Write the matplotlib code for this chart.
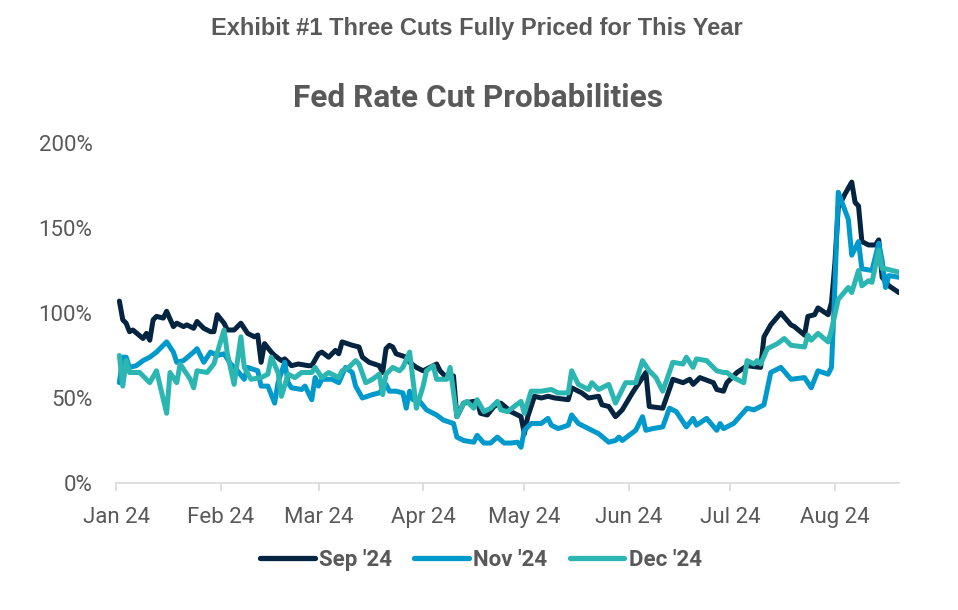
import pandas as pd
import matplotlib
matplotlib.use("Agg")
import matplotlib.pyplot as plt
import matplotlib.dates as mdates
from matplotlib.lines import Line2D
from matplotlib.ticker import FuncFormatter

# Fed rate cut probabilities (%), 2024
sep_dates = ["01-02", "01-03", "01-04", "01-05", "01-06", "01-09", "01-10", "01-11", "01-12", "01-13", "01-15",
             "01-16", "01-18", "01-19", "01-21", "01-22", "01-24", "01-25", "01-27", "01-29", "01-30", "01-31",
             "02-02", "02-03", "02-05", "02-07", "02-09", "02-11", "02-12", "02-13", "02-14", "02-16", "02-17",
             "02-19", "02-20", "02-22", "02-24", "02-27", "02-28",
             "03-01", "03-02", "03-04", "03-06", "03-07", "03-08", "03-11", "03-13", "03-14", "03-16", "03-19",
             "03-20", "03-21", "03-22", "03-23", "03-24", "03-27", "03-28", "03-30",
             "04-01", "04-03", "04-05", "04-06", "04-08", "04-09", "04-10", "04-11", "04-13", "04-16", "04-17",
             "04-18", "04-20", "04-22", "04-24", "04-27", "04-30",
             "05-01", "05-02", "05-04", "05-06", "05-08", "05-10", "05-14", "05-15", "05-18", "05-20", "05-23",
             "05-24", "05-26", "05-28", "05-30",
             "06-02", "06-06", "06-07", "06-11", "06-14", "06-17", "06-19", "06-20", "06-22", "06-26", "06-27",
             "06-29", "06-30",
             "07-03", "07-06", "07-10", "07-11", "07-13", "07-16", "07-19", "07-20", "07-23", "07-24", "07-26",
             "07-27", "07-30", "07-31",
             "08-01", "08-02", "08-04", "08-06", "08-07", "08-08", "08-09", "08-11", "08-13", "08-14", "08-15",
             "08-17", "08-20"]
sep_vals = [107, 96, 94, 89, 90, 85, 88, 84, 96, 98, 97, 101, 92, 94, 92, 93, 91, 95, 91, 89, 89, 99,
            94, 90, 90, 94, 88, 86, 87, 71, 82, 77, 75, 72, 73, 69, 70, 69, 69,
            76, 77, 74, 78, 76, 83, 81, 80, 74, 71, 69, 65, 79, 81, 80, 76, 74, 71, 68,
            66, 68, 70, 66, 62, 62, 63, 39, 47, 48, 48, 41, 40, 45, 47, 42, 39,
            29, 39, 51, 50, 51, 50, 49, 56, 53, 50, 51, 46, 45, 39, 43,
            53, 65, 45, 44, 61, 59, 61, 58, 62, 59, 55, 54, 59,
            65, 69, 68, 86, 93, 100, 93, 92, 87, 98, 99, 103, 99, 106,
            129, 162, 170, 177, 165, 163, 142, 140, 140, 143, 121, 116, 112]

nov_dates = ["01-02", "01-03", "01-04", "01-05", "01-07", "01-09", "01-11", "01-13", "01-16", "01-17", "01-18",
             "01-19", "01-21", "01-24", "01-25", "01-27", "01-28", "01-29", "01-31",
             "02-02", "02-04", "02-06", "02-08", "02-09", "02-12", "02-13", "02-15", "02-17", "02-18", "02-20",
             "02-21", "02-22", "02-25", "02-26", "02-28", "02-29",
             "03-01", "03-02", "03-05", "03-07", "03-09", "03-11", "03-12", "03-14", "03-17", "03-19", "03-21",
             "03-22", "03-24", "03-26", "03-27", "03-28", "03-29", "03-31",
             "04-02", "04-03", "04-05", "04-07", "04-10", "04-11", "04-13", "04-16", "04-17", "04-19", "04-21",
             "04-23", "04-25", "04-27", "04-29", "04-30",
             "05-01", "05-03", "05-06", "05-08", "05-09", "05-11", "05-14", "05-15", "05-17", "05-20", "05-23",
             "05-26", "05-28", "05-29", "05-30",
             "06-01", "06-03", "06-05", "06-06", "06-08", "06-11", "06-13", "06-15", "06-18", "06-20", "06-21",
             "06-24", "06-27", "06-28", "06-29",
             "07-02", "07-06", "07-08", "07-11", "07-13", "07-16", "07-19", "07-23", "07-25", "07-27", "07-30",
             "07-31",
             "08-01", "08-02", "08-05", "08-06", "08-08", "08-09", "08-12", "08-14", "08-15", "08-16", "08-17",
             "08-20"]
nov_vals = [59, 74, 74, 68, 69, 72, 74, 77, 83, 80, 77, 71, 72, 77, 79, 71, 74, 77, 75,
            76, 70, 66, 61, 68, 66, 57, 57, 47, 59, 71, 59, 56, 55, 57, 49, 62,
            57, 61, 61, 59, 68, 65, 57, 50, 52, 53, 58, 54, 54, 53, 44, 54, 49, 48,
            43, 42, 40, 37, 35, 27, 25, 24, 28, 23.5, 23.5, 27, 23.5, 23.5, 24, 21,
            31, 35, 35, 38, 34, 32, 34, 40, 35, 32, 29, 24, 25, 27, 25,
            28, 31, 39, 31, 32, 33, 44, 42, 33, 38, 34, 38, 31, 35, 32,
            35, 44, 43, 46, 65, 68, 61, 62, 56, 66, 64, 68,
            115, 171, 155, 134, 142, 126, 125, 141, 131, 115, 122, 121]

dec_dates = ["01-02", "01-03", "01-04", "01-05", "01-08", "01-11", "01-13", "01-16", "01-17", "01-19", "01-20",
             "01-23", "01-24", "01-25", "01-28", "01-30",
             "02-02", "02-03", "02-05", "02-07", "02-08", "02-10", "02-13", "02-15", "02-16", "02-18", "02-19",
             "02-21", "02-23", "02-25", "02-28", "02-29",
             "03-01", "03-02", "03-04", "03-07", "03-08", "03-10", "03-12", "03-13", "03-15", "03-17", "03-19",
             "03-20", "03-21", "03-23", "03-25", "03-26", "03-28", "03-30",
             "04-01", "04-02", "04-04", "04-05", "04-08", "04-09", "04-11", "04-13", "04-14", "04-16", "04-17",
             "04-19", "04-21", "04-23", "04-24", "04-26", "04-30",
             "05-01", "05-03", "05-06", "05-09", "05-11", "05-14", "05-15", "05-17", "05-20", "05-21", "05-23",
             "05-26", "05-28", "05-29", "05-31",
             "06-03", "06-05", "06-07", "06-09", "06-11", "06-14", "06-17", "06-18", "06-20", "06-21", "06-24",
             "06-27", "06-29", "06-30",
             "07-02", "07-05", "07-06", "07-08", "07-09", "07-10", "07-12", "07-15", "07-17", "07-19", "07-23",
             "07-24", "07-25", "07-27", "07-30", "07-31",
             "08-02", "08-05", "08-06", "08-08", "08-09", "08-11", "08-12", "08-14", "08-15", "08-16", "08-20"]
dec_vals = [75, 57, 72, 65, 65, 59, 66, 41, 65, 59, 70, 61, 56, 66, 65, 70,
            90, 76, 58, 86, 68, 61, 62, 64, 74, 65, 51, 64, 62, 65, 65, 68,
            65, 62, 65, 62, 66, 68, 72, 70, 59, 61, 64, 52, 64, 68, 66, 68, 77, 44,
            57, 66, 69, 61, 61, 68, 39, 47, 48, 44, 49, 42, 44, 48, 43, 42, 48,
            41, 54, 54, 55, 53, 53, 66, 58, 55, 59, 55, 58, 47, 51, 59,
            59, 72, 66, 62, 54, 71, 70, 74, 68, 73, 72, 66, 65, 65,
            62, 59, 72, 70, 72, 70, 79, 82, 85, 81, 80, 87, 84, 88, 83, 90,
            108, 115, 112, 125, 116, 119, 118, 137, 126, 126, 124]

labels = ["Sep '24", "Nov '24", "Dec '24"]
colors = ["#042440", "#0099cc", "#2cb6b1"]
gray = "#595959"

series = [(sep_dates, sep_vals), (nov_dates, nov_vals), (dec_dates, dec_vals)]

fig = plt.figure(figsize=(9.58, 6.10), dpi=100)
ax = fig.add_axes([0.1211, 0.2082, 0.8173, 0.5574])

for (dates, vals), lab, col in zip(series, labels, colors):
    x = pd.to_datetime(["2024-" + d for d in dates])
    ax.plot(x, vals, color=col, lw=3.6, label=lab, solid_joinstyle="round", solid_capstyle="round")

ax.set_xlim(pd.Timestamp("2024-01-01"), pd.Timestamp("2024-08-20"))
ax.set_ylim(0, 200)
ax.set_yticks([0, 50, 100, 150, 200])
ax.yaxis.set_major_formatter(FuncFormatter(lambda v, p: f"{v:.0f}%"))
ax.xaxis.set_major_locator(mdates.MonthLocator())
ax.xaxis.set_major_formatter(mdates.DateFormatter("%b %y"))

for side in ["left", "top", "right"]:
    ax.spines[side].set_visible(False)
ax.spines["bottom"].set_color("#d9d9d9")
ax.spines["bottom"].set_linewidth(1.2)
ax.tick_params(axis="x", length=6, width=1.2, color="#d9d9d9", pad=11, labelsize=16, labelcolor=gray)
ax.tick_params(axis="y", length=0, pad=17, labelsize=16, labelcolor=gray)
for t in ax.get_xticklabels() + ax.get_yticklabels():
    t.set_fontfamily("Roboto")

fig.text(0.498, 0.953, "Exhibit #1 Three Cuts Fully Priced for This Year", ha="center", va="center",
         fontsize=17, fontweight="bold", color=gray, family=["Liberation Sans", "DejaVu Sans"])
fig.text(0.4985, 0.839, "Fed Rate Cut Probabilities", ha="center", va="center",
         fontsize=22.8, fontweight="bold", color=gray, family="Roboto")

handles = [Line2D([0], [0], color=c, lw=3.8, solid_capstyle="round") for c in colors]
leg = fig.legend(handles, labels, loc="center", bbox_to_anchor=(0.502, 0.082), ncol=3, frameon=False,
                 handlelength=2.45, handletextpad=0.2, columnspacing=1.0,
                 prop={"family": "Roboto", "weight": "bold", "size": 16})
for t in leg.get_texts():
    t.set_color(gray)

fig.savefig("out.png", dpi=100)
